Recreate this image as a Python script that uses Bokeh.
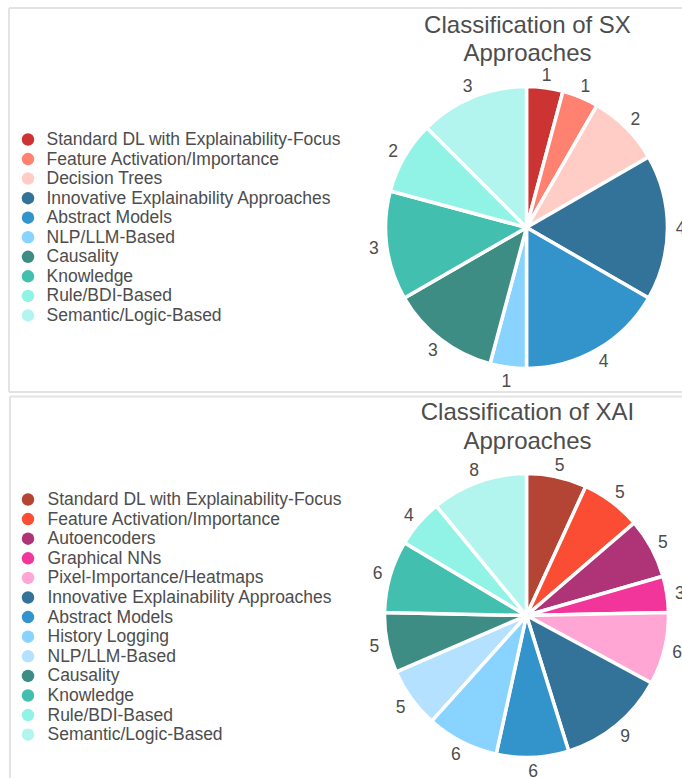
import math
from bokeh.plotting import figure
from bokeh.models import Range1d
from bokeh.core.properties import value
from bokeh.embed import file_html
from bokeh.resources import INLINE

# ---------------- data ----------------
sx_title = ["Classification of SX", "Approaches"]
sx_categories = ["Standard DL with Explainability-Focus", "Feature Activation/Importance",
                 "Decision Trees", "Innovative Explainability Approaches", "Abstract Models",
                 "NLP/LLM-Based", "Causality", "Knowledge", "Rule/BDI-Based",
                 "Semantic/Logic-Based"]
sx_values = [1, 1, 2, 4, 4, 1, 3, 3, 2, 3]
sx_colors = ["#CC3333", "#FF8170", "#FFCCC6", "#337399", "#3394CC",
             "#88D3FF", "#3D8D84", "#42BFAE", "#91F2E6", "#B2F5EE"]

xai_title = ["Classification of XAI", "Approaches"]
xai_categories = ["Standard DL with Explainability-Focus", "Feature Activation/Importance",
                  "Autoencoders", "Graphical NNs", "Pixel-Importance/Heatmaps",
                  "Innovative Explainability Approaches", "Abstract Models", "History Logging",
                  "NLP/LLM-Based", "Causality", "Knowledge", "Rule/BDI-Based",
                  "Semantic/Logic-Based"]
xai_values = [5, 5, 5, 3, 6, 9, 6, 6, 5, 5, 6, 4, 8]
xai_colors = ["#B44433", "#FA4D33", "#AE3377", "#F2359A", "#FFA6D5",
              "#337399", "#3394CC", "#88D3FF", "#B3E1FF", "#3D8D84",
              "#42BFAE", "#91F2E6", "#B2F5EE"]

# ---------------- layout ----------------
W, H = 682, 778
FONT = value("Liberation Sans")
TXT = "#4d4d4d"


def X(px):
    return px


def Y(py):
    return H - py


p = figure(width=W, height=H, x_range=Range1d(0, W), y_range=Range1d(0, H),
           output_backend="svg", toolbar_location=None, min_border=0,
           x_axis_type=None, y_axis_type=None)
p.grid.visible = False
p.outline_line_color = None
p.background_fill_color = "white"
p.border_fill_color = "white"

# panel borders (right edge lies outside the window in the reference)
bx0 = [X(8.5), X(8.5), X(8.5), X(9.5), X(9.5)]
by0 = [Y(7.5), Y(7.5), Y(391.5), Y(396), Y(396)]
bx1 = [X(700), X(8.5), X(700), X(700), X(9.5)]
by1 = [Y(7.5), Y(391.5), Y(391.5), Y(396), Y(800)]
p.segment(x0=bx0, y0=by0, x1=bx1, y1=by1, line_color="#e3e3e3", line_width=2)


def draw_panel(title, cats, vals, cols, cx, cy, r, t_mid, leg_x, leg_y0, leg_dy):
    total = float(sum(vals))
    cum = 0.0
    starts, ends, lx, ly, labels = [], [], [], [], []
    for v in vals:
        c0 = cum / total
        cum += v
        c1 = cum / total
        starts.append(math.pi / 2 - 2 * math.pi * c1)
        ends.append(math.pi / 2 - 2 * math.pi * c0)
        mid = 2 * math.pi * (c0 + c1) / 2
        lx.append(X(cx) + (r + 13) * math.sin(mid))
        ly.append(Y(cy) + (r + 13) * math.cos(mid))
        labels.append(str(v))
    p.wedge(x=X(cx), y=Y(cy), radius=r, start_angle=starts, end_angle=ends,
            fill_color=cols, line_color="white", line_width=3.5)
    p.text(x=lx, y=ly, text=labels, text_align="center", text_baseline="middle",
           text_font=FONT, text_font_size="17.5px", text_color=TXT)
    # title
    p.text(x=[X(cx + 1)] * len(title), y=[Y(m) for m in t_mid], text=title,
           text_align="center", text_baseline="middle",
           text_font=FONT, text_font_size="24px", text_color=TXT)
    # legend
    ys = [leg_y0 + i * leg_dy for i in range(len(cats))]
    p.scatter(x=[X(27.5)] * len(cats), y=[Y(yy) for yy in ys], size=12.5,
              marker="circle", fill_color=cols, line_color=None)
    p.text(x=[X(leg_x)] * len(cats), y=[Y(yy - 0.5) for yy in ys], text=cats,
           text_align="left", text_baseline="middle",
           text_font=FONT, text_font_size="17.5px", text_color=TXT)


draw_panel(sx_title, sx_categories, sx_values, sx_colors,
           cx=526, cy=227, r=141, t_mid=[23.5, 51.5],
           leg_x=46, leg_y0=139, leg_dy=19.55)
draw_panel(xai_title, xai_categories, xai_values, xai_colors,
           cx=526, cy=615, r=142, t_mid=[411, 440],
           leg_x=47, leg_y0=499, leg_dy=19.6)

open("out.html", "w").write(file_html(p, INLINE))
